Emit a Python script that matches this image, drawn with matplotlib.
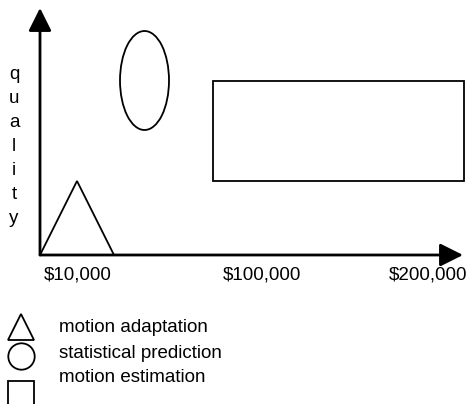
import numpy as np
import matplotlib.pyplot as plt
from matplotlib.patches import Polygon, Ellipse, Rectangle

plt.rcParams['font.family'] = ['Liberation Sans', 'DejaVu Sans']

# abstract cost / quality units, origin at the corner of the axes
methods = ['motion adaptation', 'statistical prediction', 'motion estimation']
cost_lo = [0, 80, 173]
cost_hi = [74, 129, 424]
quality_lo = [0, 125, 74]
quality_hi = [74, 224, 174]

tick_pos = [38, 222, 388]
tick_labels = ['\\$10,000', '\\$100,000', '\\$200,000']
y_label = 'quality'

W, H = 472, 404
fs = 13.5
fig = plt.figure(figsize=(W / 100, H / 100), dpi=100)

# main diagram axes (placed in pixels)
x0, x1, y_top, y_bot = 40, 463, 8, 255
ax = fig.add_axes([x0 / W, (H - y_bot) / H, (x1 - x0) / W, (y_bot - y_top) / H])
ax.set_xlim(0, 423)
ax.set_ylim(0, 247)
for s in ax.spines.values():
    s.set_visible(False)
ax.set_yticks([])
ax.set_xticks(tick_pos, tick_labels)
ax.tick_params(axis='x', length=0, pad=8.5, labelsize=fs)

lw = 1.3
# motion adaptation -> triangle
tri = Polygon([[cost_lo[0], quality_lo[0]], [cost_hi[0], quality_lo[0]],
               [(cost_lo[0] + cost_hi[0]) / 2, quality_hi[0]]],
              closed=True, fill=False, lw=lw, ec='black', clip_on=False)
ax.add_patch(tri)
# statistical prediction -> ellipse
ell = Ellipse(((cost_lo[1] + cost_hi[1]) / 2, (quality_lo[1] + quality_hi[1]) / 2),
              cost_hi[1] - cost_lo[1], quality_hi[1] - quality_lo[1],
              fill=False, lw=lw, ec='black', clip_on=False)
ax.add_patch(ell)
# motion estimation -> rectangle
rect = Rectangle((cost_lo[2], quality_lo[2]), cost_hi[2] - cost_lo[2],
                 quality_hi[2] - quality_lo[2], fill=False, lw=lw, ec='black',
                 clip_on=False)
ax.add_patch(rect)

# axis arrows
arrow = dict(arrowstyle='-|>,head_length=1.4,head_width=0.7', mutation_scale=10,
             lw=2, color='black', shrinkA=0, shrinkB=0)
ax.annotate('', xy=(1, 0), xytext=(0, 0), xycoords='axes fraction', arrowprops=arrow)
ax.annotate('', xy=(0, 1), xytext=(0, 0), xycoords='axes fraction', arrowprops=arrow)

# overlay in pixel coords for the stacked y label and the legend
lay = fig.add_axes([0, 0, 1, 1])
lay.set_xlim(0, W)
lay.set_ylim(H, 0)
lay.axis('off')

for i, ch in enumerate(y_label):
    lay.text(14, 79 + 24 * i, ch, ha='center', va='baseline', fontsize=fs)

markers = ['^', 'o', 's']
icon_y = [327, 356, 394]
text_y = [328, 353, 377]
for m, name, iy, ty in zip(markers, methods, icon_y, text_y):
    lay.plot([21], [iy], marker=m, ms=19, mfc='none', mec='black', mew=1.3,
             clip_on=False)
    lay.text(59, ty, name, ha='left', va='center', fontsize=fs)

fig.savefig('out.png', dpi=100)
